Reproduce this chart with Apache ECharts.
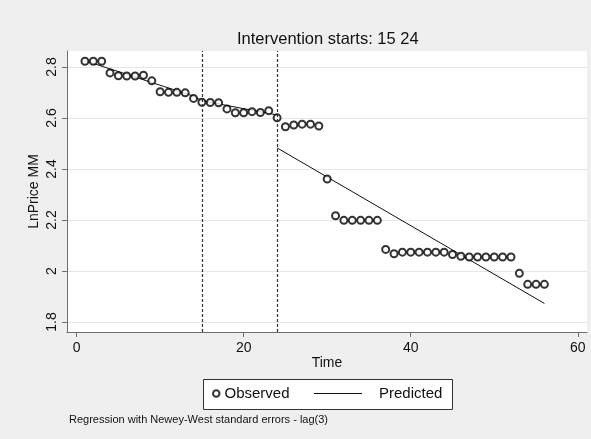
<!DOCTYPE html>
<html><head><meta charset="utf-8">
<script src="https://cdn.jsdelivr.net/npm/echarts@6/dist/echarts.min.js"></script>
<style>html,body{margin:0;padding:0;background:#efefef}#c{width:591px;height:439px}</style>
</head><body><div id="c"></div>
<script>
const time = [1,2,3,4,5,6,7,8,9,10,11,12,13,14,15,16,17,18,19,20,21,22,23,24,25,26,27,28,29,30,31,32,33,34,35,36,37,38,39,40,41,42,43,44,45,46,47,48,49,50,51,52,53,54,55,56];
const observed = [2.823,2.823,2.823,2.777,2.766,2.765,2.765,2.768,2.746,2.703,2.701,2.701,2.699,2.677,2.662,2.661,2.660,2.636,2.621,2.621,2.625,2.622,2.629,2.601,2.566,2.573,2.576,2.576,2.569,2.361,2.217,2.199,2.199,2.199,2.199,2.199,2.085,2.068,2.074,2.074,2.074,2.074,2.074,2.074,2.065,2.058,2.055,2.055,2.055,2.055,2.055,2.055,1.991,1.948,1.948,1.948];
const preTime = [1, 14, 15, 24];
const prePred = [2.825, 2.686, 2.668, 2.612];
const postTime = [24, 56];
const postPred = [2.483, 1.873];
const interventions = [15, 24];
const xTicks = [0, 20, 40, 60];
const yTicks = [1.8, 2, 2.2, 2.4, 2.6, 2.8];

const FONT = 'Liberation Sans, Arial, sans-serif';
const axisCol = '#6e6e6e';
const chart = echarts.init(document.getElementById('c'), null, {renderer: 'canvas'});
chart.setOption({
  backgroundColor: '#efefef',
  animation: false,
  title: {
    text: 'Intervention starts: ' + interventions.join(' '),
    left: 237, top: 31, padding: 0,
    textStyle: {fontFamily: FONT, fontSize: 16.5, fontWeight: 'normal', color: '#111'}
  },
  grid: {left: 67, right: 4, top: 51, bottom: 107, show: true, backgroundColor: '#fff', borderWidth: 0},
  xAxis: {
    type: 'value', min: -1.15, max: 61.1,
    name: 'Time', nameLocation: 'middle', nameGap: 24, nameMoveOverlap: false,
    nameTextStyle: {fontFamily: FONT, fontSize: 14, color: '#111'},
    axisLine: {show: true, onZero: false, lineStyle: {color: axisCol, width: 1}},
    axisTick: {show: true, length: 5, customValues: xTicks, lineStyle: {color: axisCol}},
    axisLabel: {customValues: xTicks, margin: 9, fontFamily: FONT, fontSize: 14, color: '#111'},
    splitLine: {show: false}
  },
  yAxis: {
    type: 'value', min: 1.761, max: 2.863,
    name: 'LnPrice MM', nameLocation: 'middle', nameGap: 26, nameMoveOverlap: false,
    nameTextStyle: {fontFamily: FONT, fontSize: 14, color: '#111'},
    axisLine: {show: true, onZero: false, lineStyle: {color: axisCol, width: 1}},
    axisTick: {show: true, length: 5, customValues: yTicks, lineStyle: {color: axisCol}},
    axisLabel: {customValues: yTicks, rotate: 90, margin: 8, fontFamily: FONT, fontSize: 14, color: '#111',
      formatter: v => String(Math.round(v * 10) / 10)},
    splitLine: {show: true, customValues: yTicks, lineStyle: {color: '#e6e6e6', width: 1}}
  },
  legend: [
    {data: ['Observed'],
     left: 212, top: 386, padding: 0, itemWidth: 6.5, itemHeight: 6.5,
     textStyle: {fontFamily: FONT, fontSize: 15, color: '#111'}},
    {data: [{name: 'Predicted', icon: 'rect', itemStyle: {color: '#111', borderWidth: 0}}],
     left: 314, top: 386, padding: 0, itemWidth: 48, itemHeight: 1.2,
     textStyle: {fontFamily: FONT, fontSize: 15, color: '#111', padding: [0, 0, 0, 12]}}
  ],
  graphic: [
    {type: 'rect', left: 203, top: 379, z: -1, shape: {width: 249, height: 30},
     style: {fill: '#fff', stroke: '#333', lineWidth: 1}},
    {type: 'text', left: 69, top: 414, style: {text: 'Regression with Newey-West standard errors - lag(3)',
     font: '11px ' + FONT, fill: '#111'}}
  ],
  series: [
    {name: 'Observed', type: 'scatter', symbol: 'emptyCircle', symbolSize: 7, z: 4,
     itemStyle: {color: '#000', borderWidth: 1},
     data: time.map((t, i) => [t, observed[i]]),
     markLine: {silent: true, symbol: 'none', label: {show: false},
       lineStyle: {color: '#333', type: [3, 2], width: 1.2},
       data: interventions.map(v => ({xAxis: v}))}
    },
    {name: 'Predicted', type: 'line', symbol: 'none', z: 3,
     lineStyle: {color: '#111', width: 1}, itemStyle: {color: '#111'},
     data: preTime.map((t, i) => [t, prePred[i]])},
    {name: 'Predicted', type: 'line', symbol: 'none', z: 3,
     lineStyle: {color: '#111', width: 1}, itemStyle: {color: '#111'},
     data: postTime.map((t, i) => [t, postPred[i]])}
  ]
});
</script></body></html>
